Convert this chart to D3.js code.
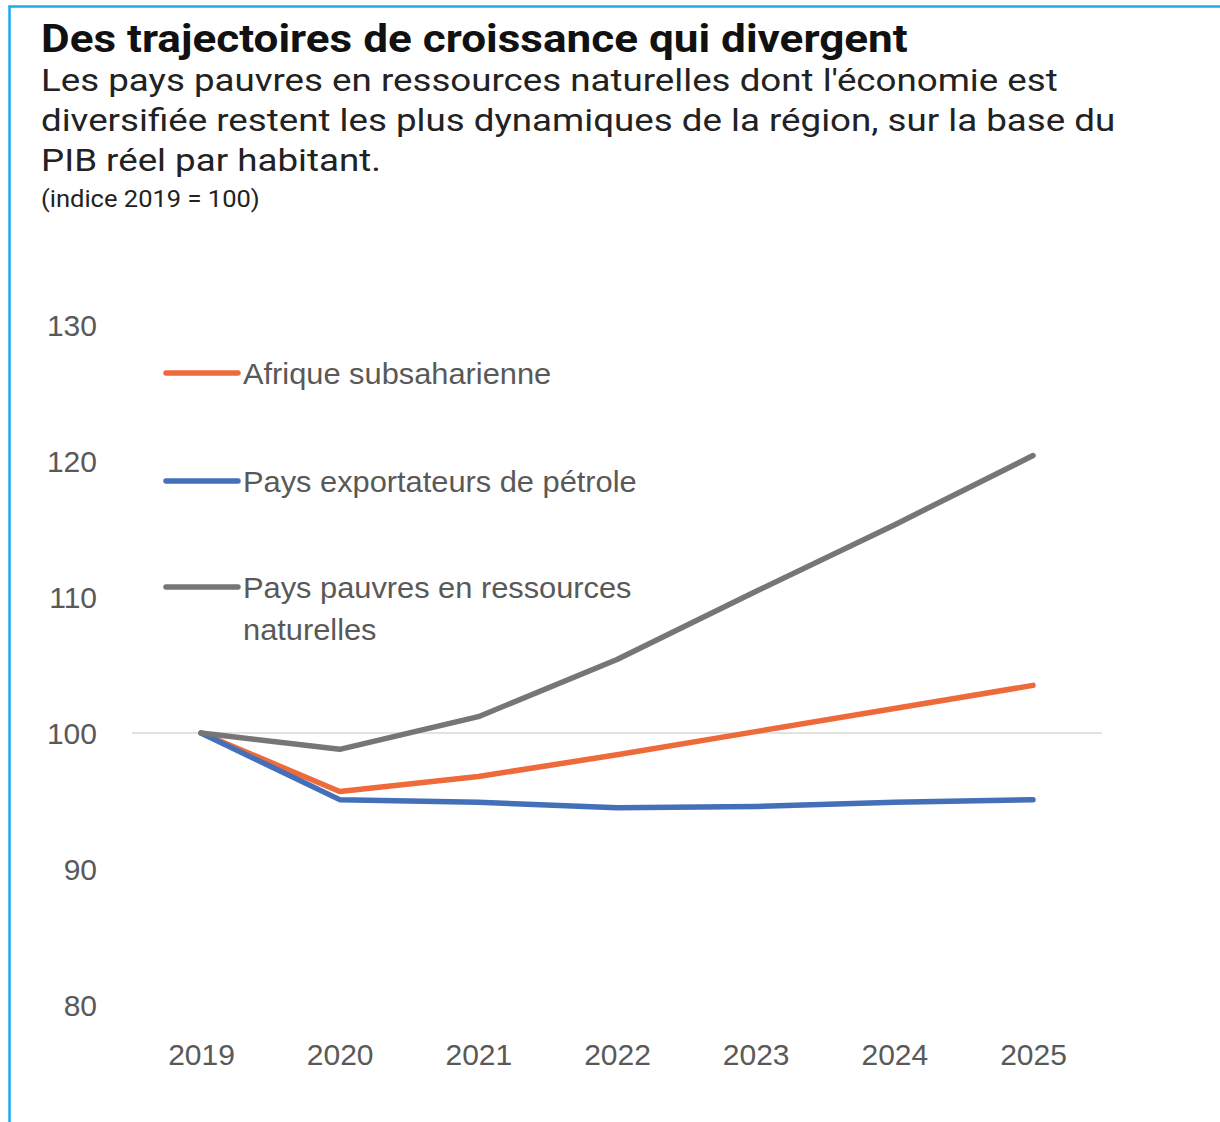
<!DOCTYPE html>
<html>
<head>
<meta charset="utf-8">
<script src="https://cdn.jsdelivr.net/npm/d3@7"></script>
<style>
  body { margin: 0; background: #fff; }
  svg { display: block; }
</style>
</head>
<body>
<svg id="chart" width="1220" height="1122"></svg>
<script>
const years = [2019, 2020, 2021, 2022, 2023, 2024, 2025];
const afrique = [100, 95.7, 96.8, 98.4, 100.1, 101.8, 103.5];
const petrole = [100, 95.1, 94.9, 94.5, 94.6, 94.9, 95.1];
const pauvres = [100, 98.8, 101.2, 105.4, 110.4, 115.3, 120.4];
const yTicks = [80, 90, 100, 110, 120, 130];
const seriesNames = ["Afrique subsaharienne", "Pays exportateurs de pétrole", "Pays pauvres en ressources naturelles"];
const seriesColors = ["#ee6a3b", "#4470b9", "#767676"];

const svg = d3.select("#chart");

// frame (cut off at the right and bottom like the screenshot)
svg.append("rect")
    .attr("x", 9.5).attr("y", 6.5)
    .attr("width", 1300).attr("height", 1300)
    .attr("fill", "none")
    .attr("stroke", "#19aaf0")
    .attr("stroke-width", 2.5);

// titles (the source image is a bit stretched sideways)
svg.append("g")
    .attr("transform", "translate(41,52) scale(1.16,1)")
  .append("text")
    .attr("font-family", "Roboto")
    .attr("font-weight", "bold")
    .attr("font-size", 38)
    .attr("fill", "#111")
    .text("Des trajectoires de croissance qui divergent");

const subLines = [
    "Les pays pauvres en ressources naturelles dont l'économie est",
    "diversifiée restent les plus dynamiques de la région, sur la base du",
    "PIB réel par habitant."
];
svg.append("g")
    .attr("transform", "translate(41,0) scale(1.147,1)")
  .selectAll(".sub").data(subLines).enter().append("text")
    .attr("class", "sub")
    .attr("x", 0)
    .attr("y", (d, i) => 91 + i * 40)
    .attr("font-family", "Roboto")
    .attr("font-size", 32)
    .attr("fill", "#222")
    .text(d => d);

svg.append("g")
    .attr("transform", "translate(41,207) scale(1.11,1)")
  .append("text")
    .attr("font-family", "Roboto")
    .attr("font-size", 23)
    .attr("fill", "#222")
    .text("(indice 2019 = 100)");

// scales
const x = d3.scalePoint().domain(years).range([201, 1033]);
const y = d3.scaleLinear().domain([80, 130]).range([1005, 325]);

const labelFont = "Liberation Sans, Arial, sans-serif";

// y labels
const yAxis = svg.append("g")
    .attr("transform", "translate(97,0)")
    .call(d3.axisLeft(y).tickValues(yTicks).tickSize(0).tickPadding(0));
yAxis.select(".domain").remove();
yAxis.selectAll("text")
    .attr("font-family", labelFont)
    .attr("font-size", 30)
    .attr("fill", "#595959")
    .attr("dy", "0.36em");

// x labels
const xAxis = svg.append("g")
    .attr("transform", "translate(0,1065)")
    .call(d3.axisBottom(x).tickSize(0).tickPadding(0).tickFormat(d3.format("d")));
xAxis.select(".domain").remove();
xAxis.selectAll("text")
    .attr("font-family", labelFont)
    .attr("font-size", 30)
    .attr("fill", "#595959")
    .attr("dy", 0);

// gridline at 100
svg.append("line")
    .attr("x1", 132).attr("x2", 1102)
    .attr("y1", y(100)).attr("y2", y(100))
    .attr("stroke", "#d9d9d9")
    .attr("stroke-width", 1.5);

// lines
const line = d3.line()
    .x((d, i) => x(years[i]))
    .y(d => y(d));

const allSeries = [afrique, petrole, pauvres];
allSeries.forEach((s, i) => {
    svg.append("path")
        .datum(s)
        .attr("d", line)
        .attr("fill", "none")
        .attr("stroke", seriesColors[i])
        .attr("stroke-width", 5.5)
        .attr("stroke-linejoin", "round")
        .attr("stroke-linecap", "round");
});

// legend
const legendY = [373, 481, 587];
const legend = svg.append("g");
seriesNames.forEach((name, i) => {
    legend.append("line")
        .attr("x1", 166).attr("x2", 238)
        .attr("y1", legendY[i]).attr("y2", legendY[i])
        .attr("stroke", seriesColors[i])
        .attr("stroke-width", 5.5)
        .attr("stroke-linecap", "round");
    const t = legend.append("g")
        .attr("transform", `translate(243,${legendY[i] + 11}) scale(1.027,1)`)
      .append("text")
        .attr("font-family", labelFont)
        .attr("font-size", 30)
        .attr("fill", "#595959");
    if (i === 2) {
        t.append("tspan").attr("x", 0).text("Pays pauvres en ressources");
        t.append("tspan").attr("x", 0).attr("dy", 42).text("naturelles");
    } else {
        t.text(name);
    }
});
</script>
</body>
</html>
